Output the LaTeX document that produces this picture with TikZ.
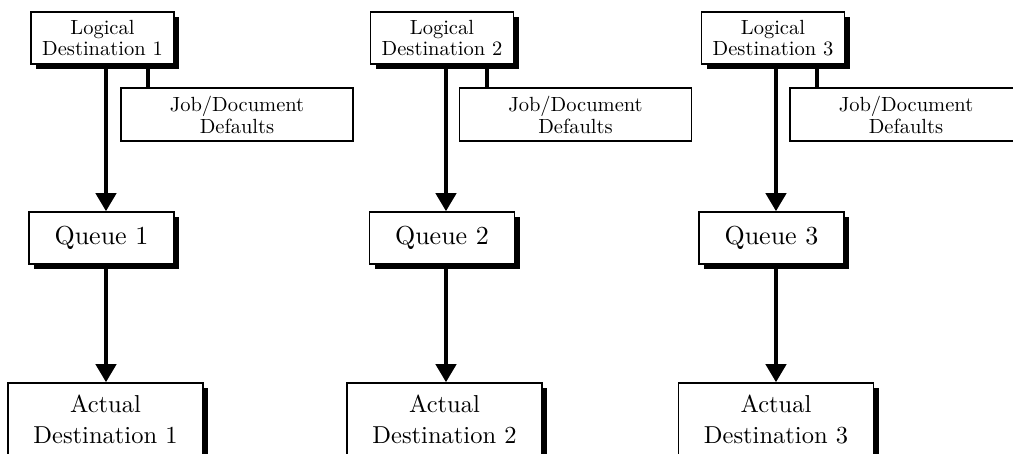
\documentclass[tikz,border=0pt]{standalone}
\usepackage{fontspec}
\setmainfont{lmroman10-regular}[Extension=.otf]
\usetikzlibrary{arrows.meta,shadows}
\tikzset{
  box/.style={draw, line width=1.5pt, fill=white, inner sep=0pt, align=center},
  shbox/.style={box, drop shadow={shadow xshift=5pt, shadow yshift=-5pt, fill=black, opacity=1}},
  logical/.style={shbox, minimum width=143pt, minimum height=52pt, font=\fontsize{20.5}{20.5}\selectfont},
  jobbox/.style={box, minimum width=232pt, minimum height=53pt, font=\fontsize{20.5}{22}\selectfont},
  queue/.style={shbox, minimum width=145pt, minimum height=52pt, font=\fontsize{26}{30}\selectfont},
  actual/.style={shbox, minimum width=195pt, minimum height=73pt, font=\fontsize{24.5}{31}\selectfont},
  flow/.style={line width=4pt, -{Triangle[width=20pt,length=18pt]}},
  link/.style={line width=4pt},
}
\begin{document}
\begin{tikzpicture}[x=1pt,y=-1pt]
\useasboundingbox[fill=white] (0,0) rectangle (1013,454);
% column 1
\node[logical] (L1) at (102.5,38) {Logical\\Destination 1};
\node[jobbox] (J1) at (237,114.5) {Job/Document\\Defaults};
\node[queue] (Q1) at (101.5,238) {Queue 1};
\node[actual] (A1) at (105.5,419.5) {Actual\\Destination 1};
\coordinate (m1) at (106,0);
\coordinate (j1) at (148,0);
% column 2
\node[logical] (L2) at (442,38) {Logical\\Destination 2};
\node[jobbox] (J2) at (575.5,114.5) {Job/Document\\Defaults};
\node[queue] (Q2) at (442,238) {Queue 2};
\node[actual] (A2) at (444.5,419.5) {Actual\\Destination 2};
\coordinate (m2) at (446,0);
\coordinate (j2) at (487,0);
% column 3
\node[logical] (L3) at (773,38) {Logical\\Destination 3};
\node[jobbox] (J3) at (906,114.5) {Job/Document\\Defaults};
\node[queue] (Q3) at (771.5,238) {Queue 3};
\node[actual] (A3) at (776,419.5) {Actual\\Destination 3};
\coordinate (m3) at (776,0);
\coordinate (j3) at (817,0);
% connectors
\foreach \i in {1,2,3}{
  \draw[link] (L\i.south -| j\i) -- (J\i.north -| j\i);
  \draw[flow] (L\i.south -| m\i) -- (Q\i.north -| m\i);
  \draw[flow] (Q\i.south -| m\i) -- (A\i.north -| m\i);
}
\end{tikzpicture}
\end{document}
